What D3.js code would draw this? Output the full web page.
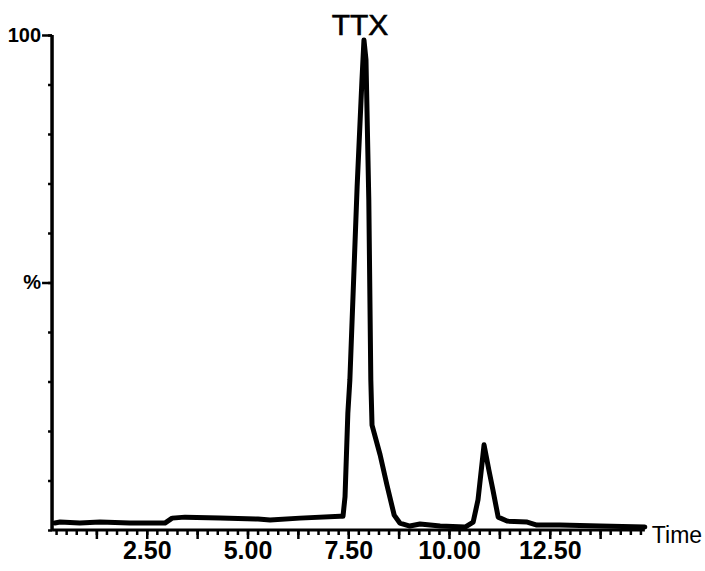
<!DOCTYPE html>
<html>
<head>
<meta charset="utf-8">
<script src="https://cdn.jsdelivr.net/npm/d3@7"></script>
<style>
  body { margin: 0; background: #fff; }
  svg { display: block; }
  .lbl { font-family: "Liberation Sans Narrow", "Liberation Sans", Arial, sans-serif; fill: #000; }
</style>
</head>
<body>
<div id="chart"></div>
<script>
// chromatogram trace (time in min, intensity in %)
const times = [0.22, 0.35, 0.84, 1.34, 2.08, 2.95, 3.13, 3.45, 4.32, 5.26, 5.56, 6.30, 7.30,
  7.37, 7.42, 7.49, 7.54, 7.72, 7.84, 7.89, 7.94, 8.01, 8.06, 8.09, 8.29, 8.46, 8.64, 8.78,
  9.03, 9.28, 9.78, 10.40, 10.60, 10.72, 10.87, 10.99, 11.09, 11.22, 11.44, 11.94, 12.18,
  12.75, 13.75, 14.86];
const percents = [1.4, 1.6, 1.4, 1.6, 1.4, 1.4, 2.4, 2.6, 2.4, 2.2, 2.0, 2.4, 2.8,
  2.8, 6.7, 23.6, 30.3, 69.3, 90.9, 99, 95, 66.7, 30.3, 21.2, 15.2, 9.1, 3.0, 1.4,
  0.8, 1.2, 0.8, 0.6, 1.6, 6.1, 17.2, 12.1, 8.1, 2.6, 1.8, 1.6, 1.0,
  1.0, 0.8, 0.6];

const xLabels = [2.5, 5.0, 7.5, 10.0, 12.5];
const xMinorTicks = d3.range(1, 60).map(i => i * 0.25);
const xMajorTicks = d3.range(1, 12).map(i => i * 1.25);
const yMinorTicks = d3.range(0, 11).map(i => i * 10);
const peakName = "TTX";
const peakTime = 7.89;

const width = 705, height = 571;

const svg = d3.select("#chart").append("svg")
  .attr("width", width)
  .attr("height", height);

const x = d3.scaleLinear().domain([0, 15]).range([46, 46 + 15 * 40.3]);
const y = d3.scaleLinear().domain([0, 100]).range([530, 35]);

const xStart = 0.15, xEnd = 14.86;

// x axis: minor ticks, major ticks, labels
svg.append("g")
  .attr("transform", `translate(0,${y(0)})`)
  .call(d3.axisBottom(x).tickValues(xMinorTicks).tickSize(5).tickFormat(""))
  .call(g => g.select(".domain").remove())
  .call(g => g.selectAll("line").attr("stroke", "#000").attr("stroke-width", 2.5));

svg.append("g")
  .attr("transform", `translate(0,${y(0)})`)
  .call(d3.axisBottom(x).tickValues(xMajorTicks).tickSize(9).tickFormat(""))
  .call(g => g.select(".domain").remove())
  .call(g => g.selectAll("line").attr("stroke", "#000").attr("stroke-width", 2.5));

svg.append("g")
  .attr("transform", `translate(0,${y(0)})`)
  .call(d3.axisBottom(x).tickValues(xLabels).tickSize(0).tickPadding(11).tickFormat(d3.format(".2f")))
  .call(g => g.select(".domain").remove())
  .call(g => g.selectAll("text")
    .attr("class", "lbl")
    .style("font-size", "25px")
    .style("font-weight", "bold"));

svg.append("line")
  .attr("x1", x(xStart)).attr("x2", x(xEnd))
  .attr("y1", y(0)).attr("y2", y(0))
  .attr("stroke", "#000").attr("stroke-width", 3);

svg.append("text")
  .attr("class", "lbl")
  .attr("x", x(xEnd) + 7)
  .attr("y", y(0) + 7)
  .attr("dominant-baseline", "middle")
  .style("font-size", "23px")
  .text("Time");

// y axis
svg.append("g")
  .attr("transform", `translate(${x(xStart)},0)`)
  .call(d3.axisLeft(y).tickValues(yMinorTicks).tickSize(4).tickFormat(""))
  .call(g => g.select(".domain").remove())
  .call(g => g.selectAll("line").attr("stroke", "#000").attr("stroke-width", 2.5));

svg.append("g")
  .attr("transform", `translate(${x(xStart)},0)`)
  .call(d3.axisLeft(y).tickValues([100, 50]).tickSize(10).tickPadding(1)
    .tickFormat(d => d === 100 ? "100" : "%"))
  .call(g => g.select(".domain").remove())
  .call(g => g.selectAll("line").attr("stroke", "#000").attr("stroke-width", 2.5))
  .call(g => g.selectAll("text")
    .attr("class", "lbl")
    .style("font-family", "'Liberation Sans', Arial, sans-serif")
    .style("font-size", "20px")
    .style("font-weight", "bold"));

svg.append("line")
  .attr("x1", x(xStart)).attr("x2", x(xStart))
  .attr("y1", y(100)).attr("y2", y(0))
  .attr("stroke", "#000").attr("stroke-width", 3.5);

// trace
const line = d3.line()
  .x((d, i) => x(times[i]))
  .y((d, i) => y(percents[i]));

svg.append("path")
  .datum(times)
  .attr("d", line)
  .attr("fill", "none")
  .attr("stroke", "#000")
  .attr("stroke-width", 5)
  .attr("stroke-linejoin", "round")
  .attr("stroke-linecap", "round");

// peak label
svg.append("text")
  .attr("x", x(peakTime) - 4)
  .attr("y", 35)
  .attr("text-anchor", "middle")
  .style("font-family", "'Liberation Sans', Arial, sans-serif")
  .style("font-size", "30px")
  .style("stroke", "#000")
  .style("stroke-width", 0.6)
  .text(peakName);
</script>
</body>
</html>
